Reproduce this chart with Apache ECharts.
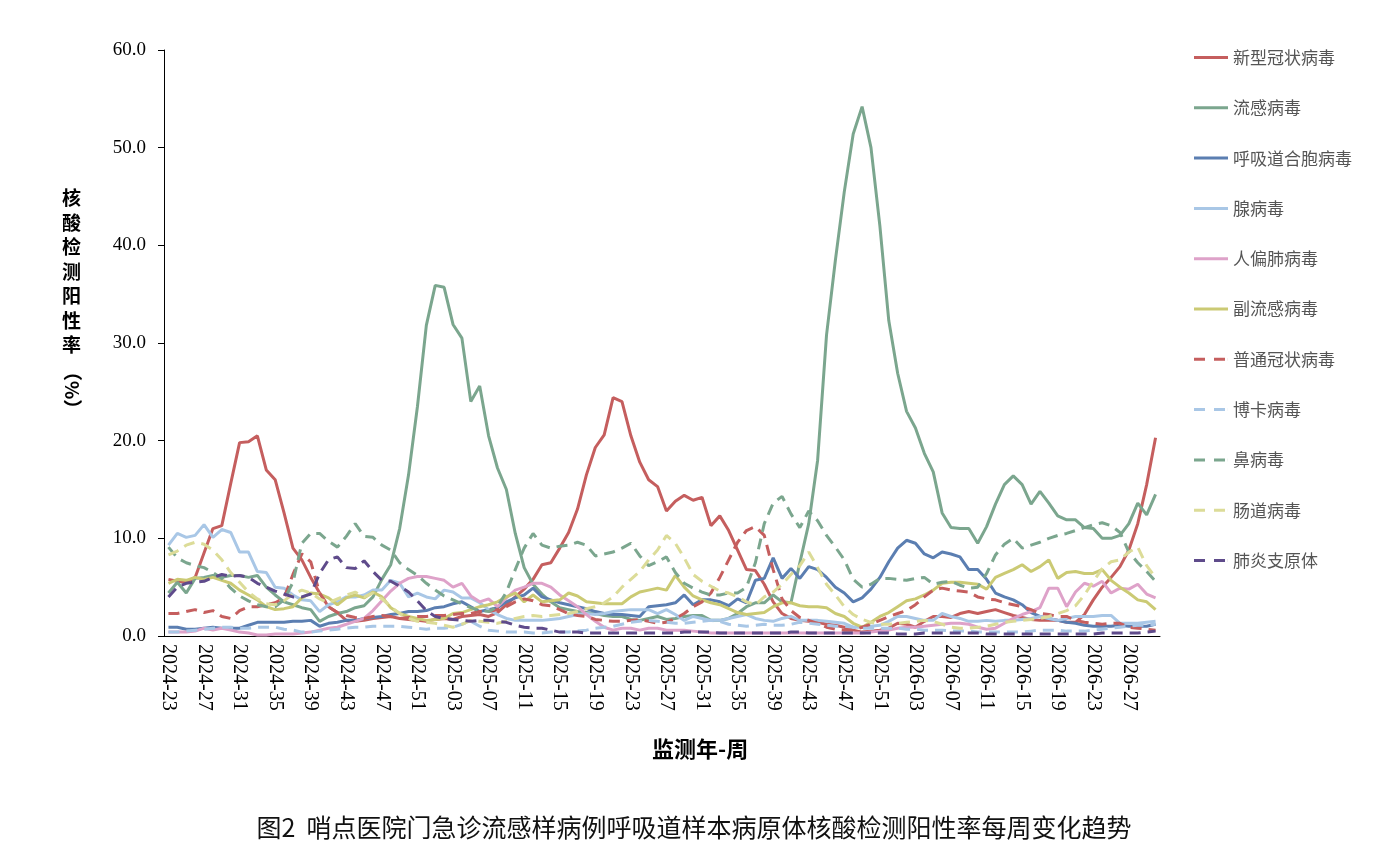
<!DOCTYPE html>
<html>
<head>
<meta charset="utf-8">
<script src="https://cdn.jsdelivr.net/npm/echarts@6/dist/echarts.min.js"></script>
<style>
  html, body { margin: 0; padding: 0; background: #fff; }
  #chart { width: 1388px; height: 866px; }
</style>
</head>
<body>
<div id="chart"></div>
<script>
// 监测周: 2024-23 ~ 2026-30
var weeks = [];
[[2024, 23, 52], [2025, 1, 52], [2026, 1, 30]].forEach(function (r) {
    for (var w = r[1]; w <= r[2]; w++) {
        weeks.push(r[0] + '-' + (w < 10 ? '0' + w : w));
    }
});

var yTicks = [0, 10, 20, 30, 40, 50, 60];

// 各病原体阳性率 (%)
var covid = [5.8,5.6,5.5,6.0,8.5,11.0,11.3,15.6,19.8,19.9,
    20.5,17.0,16.0,12.6,9.0,7.8,6.0,4.4,3.0,2.4,
    1.6,1.5,1.6,1.8,1.9,2.0,1.8,1.7,1.6,1.5,
    1.7,1.8,1.7,2.0,2.1,2.2,2.0,2.4,3.2,4.0,
    4.8,5.8,7.3,7.5,9.0,10.6,13.0,16.5,19.3,20.6,
    24.4,24.0,20.5,17.8,16.0,15.3,12.8,13.8,14.4,13.9,
    14.2,11.3,12.3,10.8,8.8,6.8,6.7,5.3,3.5,2.3,
    1.8,1.6,1.5,1.4,1.2,1.1,0.9,0.6,0.4,0.5,
    0.6,0.8,1.3,1.2,0.9,1.5,2.0,2.0,1.9,2.3,
    2.5,2.3,2.5,2.7,2.4,2.1,1.9,1.7,1.6,1.6,
    1.6,1.4,1.4,2.2,3.7,5.0,6.0,7.1,8.8,11.5,
    15.5,20.3];
var flu = [4.4,5.5,4.4,5.9,6.0,6.2,6.0,6.2,6.2,6.0,
    6.2,5.0,4.2,3.5,3.2,2.9,2.7,1.5,2.0,2.3,
    2.5,2.9,3.1,4.0,5.8,7.3,11.0,16.5,23.5,31.8,
    35.9,35.7,31.9,30.5,24.0,25.6,20.5,17.2,15.0,10.5,
    7.0,5.3,4.3,3.5,2.9,2.7,2.5,2.4,2.3,2.1,
    2.0,2.0,1.7,1.6,1.8,2.0,1.7,1.8,2.0,2.1,
    2.1,1.6,1.6,1.8,2.3,3.0,3.4,3.4,4.2,3.5,
    3.4,7.5,11.5,18.0,30.8,38.5,45.5,51.4,54.2,50.0,
    42.0,32.3,26.9,23.0,21.3,18.7,16.8,12.6,11.1,11.0,
    11.0,9.5,11.2,13.5,15.5,16.4,15.5,13.5,14.8,13.6,
    12.3,11.9,11.9,11.1,11.0,10.0,10.0,10.3,11.5,13.6,
    12.4,14.5];
var rsv = [0.9,0.9,0.7,0.7,0.8,0.9,0.8,0.8,0.8,1.1,
    1.4,1.4,1.4,1.4,1.5,1.5,1.6,1.0,1.3,1.4,
    1.6,1.6,1.8,1.9,2.0,2.2,2.3,2.5,2.5,2.6,
    2.9,3.0,3.3,3.5,3.0,2.5,2.7,2.9,3.5,3.9,
    4.2,4.9,4.0,3.7,3.4,3.2,3.0,2.8,2.5,2.3,
    2.2,2.2,2.1,2.0,3.0,3.1,3.2,3.4,4.2,3.2,
    3.7,3.7,3.5,3.1,3.8,3.4,5.7,5.9,8.0,5.9,
    6.9,5.9,7.1,6.8,6.0,5.0,4.4,3.5,3.9,4.8,
    6.0,7.6,9.0,9.8,9.5,8.4,8.0,8.6,8.4,8.1,
    6.8,6.8,5.8,4.4,4.0,3.7,3.2,2.4,2.0,1.8,
    1.6,1.4,1.3,1.1,1.0,1.0,1.0,1.1,1.0,1.0,
    1.0,1.2];
var adeno = [9.3,10.5,10.1,10.3,11.4,10.1,10.9,10.6,8.6,8.6,
    6.6,6.5,5.0,4.9,4.2,3.7,3.6,2.5,3.2,3.5,
    4.0,4.0,4.2,4.7,4.7,5.7,5.4,4.0,4.4,4.0,
    3.8,4.7,4.5,3.9,3.9,3.4,2.7,2.2,1.8,1.6,
    1.6,1.6,1.6,1.7,1.8,2.0,2.2,2.3,2.2,2.3,
    2.5,2.6,2.7,2.7,2.7,2.3,2.7,2.2,1.6,2.0,
    1.8,1.6,1.6,1.8,2.0,2.2,1.8,1.6,1.5,1.8,
    2.0,1.6,1.6,1.6,1.5,1.4,1.3,0.9,0.9,1.0,
    1.1,1.5,2.0,2.0,1.8,1.6,1.6,2.3,2.0,1.8,
    1.5,1.5,1.6,1.5,1.6,1.6,1.7,1.8,2.0,1.8,
    1.6,1.8,2.0,2.0,2.0,2.1,2.1,1.3,1.3,1.3,
    1.4,1.5];
var hmpv = [0.4,0.4,0.4,0.5,0.8,0.6,0.8,0.6,0.4,0.3,
    0.1,0.1,0.2,0.2,0.2,0.3,0.4,0.6,0.8,0.9,
    1.2,1.5,1.8,2.6,3.6,4.6,5.4,5.9,6.1,6.1,
    5.9,5.7,5.0,5.4,4.1,3.5,3.8,3.0,3.9,4.7,
    5.0,5.4,5.4,5.0,4.2,3.6,3.0,2.2,1.5,0.9,
    0.6,0.8,0.8,0.6,0.8,0.8,0.6,0.6,0.6,0.5,
    0.4,0.3,0.3,0.3,0.3,0.3,0.3,0.3,0.3,0.3,
    0.3,0.3,0.3,0.3,0.3,0.3,0.3,0.3,0.3,0.4,
    0.5,0.6,0.8,0.9,0.9,1.0,1.1,1.2,1.3,1.3,
    1.2,0.9,0.7,0.8,1.3,1.8,2.2,2.5,2.9,4.9,
    4.9,3.0,4.5,5.4,5.1,5.6,4.4,4.9,4.8,5.3,
    4.3,3.9];
var piv = [5.4,5.8,5.7,6.0,5.8,6.0,5.7,5.4,4.7,4.2,
    3.7,3.0,2.7,2.8,3.0,3.9,4.4,4.3,3.9,3.2,
    3.9,4.2,3.9,4.5,4.0,2.9,2.3,2.0,1.8,1.6,
    1.7,1.8,2.3,2.4,2.7,3.0,3.2,3.5,4.0,4.4,
    3.5,4.2,3.5,3.6,3.7,4.4,4.1,3.5,3.4,3.3,
    3.3,3.3,4.0,4.5,4.7,4.9,4.7,6.2,5.0,4.1,
    3.7,3.4,3.2,2.8,2.4,2.2,2.3,2.4,3.0,3.4,
    3.4,3.1,3.0,3.0,2.9,2.3,2.0,1.3,0.9,1.4,
    2.0,2.4,3.0,3.6,3.8,4.2,4.7,5.4,5.5,5.5,
    5.4,5.3,4.8,6.0,6.4,6.8,7.3,6.6,7.1,7.8,
    5.9,6.5,6.6,6.4,6.4,6.8,5.7,5.0,4.4,3.7,
    3.5,2.7];
var hcov = [2.3,2.3,2.5,2.7,2.4,2.6,2.0,1.8,2.6,3.0,
    3.0,3.2,3.4,3.9,6.3,8.4,7.6,4.4,3.0,2.4,
    2.1,1.9,1.8,2.0,2.1,2.0,1.8,1.9,2.0,2.0,
    2.1,2.1,2.2,2.3,2.3,2.5,2.5,2.7,3.0,3.5,
    3.8,3.6,3.2,3.1,2.7,2.3,2.1,2.0,1.7,1.6,
    1.5,1.5,1.6,1.7,1.5,1.3,1.4,1.8,2.3,3.0,
    3.5,4.4,6.0,7.8,9.6,10.8,11.2,10.3,6.8,3.8,
    2.6,1.9,1.6,1.3,0.9,0.7,0.6,0.6,0.9,1.2,
    1.6,2.0,2.3,2.6,3.2,4.0,4.7,4.9,4.7,4.6,
    4.5,4.0,3.8,3.7,3.4,3.2,3.0,2.7,2.3,2.2,
    2.0,2.0,1.6,1.4,1.3,1.2,1.3,1.3,0.9,0.8,
    0.7,0.6];
var boca = [0.4,0.4,0.5,0.6,0.7,0.8,0.9,0.9,0.8,0.8,
    0.9,0.9,0.9,0.7,0.6,0.4,0.4,0.5,0.6,0.7,
    0.8,0.9,0.9,1.0,1.0,1.0,1.0,0.9,0.8,0.7,
    0.8,0.8,0.9,1.2,1.5,1.0,0.6,0.5,0.4,0.4,
    0.4,0.3,0.3,0.4,0.4,0.4,0.5,0.6,0.8,0.9,
    1.0,1.2,1.4,1.5,1.6,1.5,1.4,1.3,1.3,1.4,
    1.5,1.6,1.5,1.2,1.1,1.0,1.1,1.2,1.1,1.1,
    1.2,1.4,1.3,1.2,1.1,1.0,1.0,0.9,0.8,0.8,
    0.8,0.8,0.8,0.7,0.7,0.6,0.6,0.6,0.5,0.5,
    0.5,0.4,0.4,0.4,0.4,0.4,0.4,0.5,0.6,0.6,
    0.6,0.5,0.5,0.5,0.6,0.7,0.8,0.9,1.0,1.1,
    1.1,1.2];
var rhino = [9.1,8.0,7.5,7.2,7.0,6.5,5.9,4.9,4.1,3.6,
    3.2,3.0,3.0,3.7,5.5,9.5,10.5,10.5,9.7,9.1,
    10.2,11.5,10.2,10.1,9.3,8.8,7.5,6.8,6.2,5.4,
    4.7,4.1,3.7,3.3,2.9,2.6,2.5,3.0,4.5,6.8,
    9.0,10.5,9.3,9.0,9.2,9.3,9.6,9.3,8.2,8.4,
    8.6,9.0,9.5,8.2,7.2,7.6,8.1,6.5,5.4,4.9,
    4.5,4.2,4.2,4.4,4.4,5.0,7.5,11.5,13.6,14.3,
    12.5,11.1,12.8,11.8,10.3,9.1,7.8,5.8,5.0,5.3,
    5.9,5.9,5.8,5.7,5.9,6.0,5.3,5.5,5.6,5.2,
    4.9,5.0,6.4,8.3,9.4,10.0,9.0,9.3,9.6,10.0,
    10.3,10.5,10.8,11.1,11.4,11.6,11.3,10.6,8.6,7.5,
    6.6,5.6];
var entero = [8.3,8.7,9.3,9.6,9.4,8.8,7.8,6.5,5.5,4.5,
    3.8,3.3,3.2,3.6,4.3,4.7,4.4,3.8,3.4,3.8,
    4.2,4.5,4.0,4.4,3.8,3.0,2.3,1.8,1.5,1.4,
    1.3,1.1,0.9,1.2,1.6,1.5,1.4,1.3,1.5,1.8,
    2.0,2.1,2.0,2.1,2.2,2.3,2.5,2.8,3.0,3.4,
    4.0,5.0,5.8,6.6,7.8,8.8,10.3,9.5,8.0,6.3,
    5.6,5.1,4.6,4.4,4.0,3.5,3.2,4.0,4.5,5.3,
    6.3,7.2,8.6,7.0,5.3,4.2,3.0,2.2,1.7,1.4,
    1.2,1.2,1.3,1.4,1.5,1.6,1.5,1.2,0.9,0.8,
    0.8,0.9,1.0,1.2,1.4,1.5,1.6,1.7,1.8,2.0,
    2.3,2.6,3.1,4.2,5.6,6.9,7.6,7.8,8.6,9.1,
    7.2,6.0];
var mp = [4.0,5.0,5.4,5.5,5.6,6.0,6.3,6.1,6.2,6.0,
    5.4,5.0,4.6,4.3,4.0,4.0,4.3,6.4,7.8,8.1,
    7.0,6.9,7.7,6.6,5.7,5.6,5.1,4.5,3.6,2.6,
    2.0,1.8,1.7,1.6,1.5,1.6,1.6,1.5,1.4,1.1,
    0.9,0.8,0.8,0.6,0.4,0.4,0.4,0.3,0.3,0.3,
    0.3,0.3,0.3,0.3,0.3,0.3,0.3,0.3,0.4,0.4,
    0.4,0.4,0.3,0.3,0.3,0.3,0.3,0.3,0.3,0.3,
    0.4,0.4,0.3,0.3,0.3,0.3,0.3,0.3,0.3,0.3,
    0.3,0.3,0.2,0.2,0.2,0.3,0.3,0.3,0.3,0.3,
    0.3,0.3,0.2,0.2,0.2,0.2,0.2,0.2,0.2,0.2,
    0.2,0.2,0.2,0.2,0.2,0.3,0.3,0.3,0.3,0.3,
    0.4,0.5];

var RED = '#c55e5e', GREEN = '#7ba68e', BLUE = '#5b7eb1',
    LBLUE = '#a9c7e6', PINK = '#dea2c9', OLIVE = '#cbca74',
    PALE = '#dcdc98', PURPLE = '#5f4b8b';
var DASH = [11, 7];
// 图例线形
var ICON_SOLID = 'path://M0,0H34V3H0Z';
var ICON_DASH = 'path://M0,0H11V3H0Z M20,0H31V3H20Z M33.9,0H34V3H33.9Z';

var legendItems = [];

function mk(name, data, color, dashed) {
    legendItems.push({ name: name, icon: dashed ? ICON_DASH : ICON_SOLID });
    return {
        name: name,
        type: 'line',
        data: data,
        symbol: 'none',
        smooth: false,
        lineStyle: { color: color, width: 3, type: dashed ? DASH : 'solid' },
        itemStyle: { color: color },
        emphasis: { disabled: true }
    };
}

var serif = 'Liberation Serif';
var cjk = 'Noto Sans CJK SC';

var seriesList = [
    mk('新型冠状病毒', covid, RED, false),
    mk('流感病毒', flu, GREEN, false),
    mk('呼吸道合胞病毒', rsv, BLUE, false),
    mk('腺病毒', adeno, LBLUE, false),
    mk('人偏肺病毒', hmpv, PINK, false),
    mk('副流感病毒', piv, OLIVE, false),
    mk('普通冠状病毒', hcov, RED, true),
    mk('博卡病毒', boca, LBLUE, true),
    mk('鼻病毒', rhino, GREEN, true),
    mk('肠道病毒', entero, PALE, true),
    mk('肺炎支原体', mp, PURPLE, true)
];

var chart = echarts.init(document.getElementById('chart'));
chart.setOption({
    backgroundColor: '#fff',
    animation: false,
    title: {
        text: '图2  哨点医院门急诊流感样病例呼吸道样本病原体核酸检测阳性率每周变化趋势',
        left: 'center',
        top: 810,
        textStyle: { fontFamily: cjk, fontSize: 25, fontWeight: 'normal', color: '#111' }
    },
    legend: {
        orient: 'vertical',
        left: 1189,
        top: 44,
        itemWidth: 34,
        itemHeight: 3,
        itemGap: 33.3,
        data: legendItems,
        textStyle: { fontFamily: cjk, fontSize: 17, color: '#555' }
    },
    grid: { left: 164, right: 228, top: 50, bottom: 230, containLabel: false },
    xAxis: {
        type: 'category',
        data: weeks,
        boundaryGap: true,
        axisLine: { lineStyle: { color: '#000', width: 1 } },
        axisTick: { interval: 0, length: 6, lineStyle: { color: '#000' } },
        axisLabel: {
            interval: 3,
            rotate: -90,
            margin: 8,
            fontFamily: serif,
            fontSize: 20,
            color: '#000'
        },
        splitLine: { show: false }
    },
    yAxis: {
        type: 'value',
        min: yTicks[0],
        max: yTicks[yTicks.length - 1],
        interval: 10,
        axisLine: { show: true, lineStyle: { color: '#000', width: 1 } },
        axisTick: { show: true, length: 6, lineStyle: { color: '#000' } },
        axisLabel: {
            margin: 18,
            fontFamily: serif,
            fontSize: 19,
            color: '#000',
            formatter: function (v) { return v.toFixed(1); }
        },
        splitLine: { show: false }
    },
    graphic: [
        {
            type: 'text',
            left: 62,
            top: 186,
            style: {
                text: '核\n酸\n检\n测\n阳\n性\n率',
                font: 'bold 19px "Noto Sans CJK SC"',
                lineHeight: 24.5,
                fill: '#000'
            }
        },
        {
            type: 'text',
            x: 82,
            y: 362,
            rotation: -Math.PI / 2,
            style: {
                text: '（%）',
                font: 'bold 19px "Noto Sans CJK SC"',
                fill: '#000'
            }
        },
        {
            type: 'text',
            left: 652,
            top: 738,
            style: {
                text: '监测年-周',
                font: 'bold 22px "Noto Sans CJK SC"',
                fill: '#000'
            }
        }
    ],
    series: seriesList
});
</script>
</body>
</html>
